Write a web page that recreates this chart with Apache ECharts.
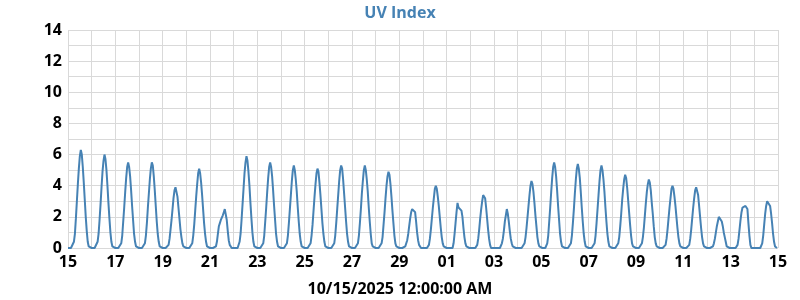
<!DOCTYPE html>
<html>
<head>
<meta charset="utf-8">
<script src="https://cdn.jsdelivr.net/npm/echarts@6/dist/echarts.min.js"></script>
<style>html,body{margin:0;padding:0;background:#fff;}#chart{width:800px;height:300px;}</style>
</head>
<body>
<div id="chart"></div>
<script>
const chartTitle = 'UV Index';
const xAxisTitle = '10/15/2025 12:00:00 AM';
const tickLabels = ['15','17','19','21','23','25','27','29','01','03','05','07','09','11','13','15'];
const yTicks = [0, 2, 4, 6, 8, 10, 12, 14];
const hoursPerDay = 24;
// hourly UV index, one row per day (hours 0..23)
const uvHourly = [
0,0,0,0,0,0.1,0.4,0.9,1.9,3.0,4.1,5.1,5.9,6.3,6.0,5.2,4.2,3.1,2.0,1.1,0.4,0.1,0,0,
0,0,0,0,0,0.1,0.4,0.9,1.8,2.8,3.9,4.9,5.6,6.0,5.7,5.0,4.0,2.9,1.9,1.0,0.4,0.1,0,0,
0,0,0,0,0,0.1,0.3,0.8,1.7,2.6,3.6,4.5,5.2,5.5,5.2,4.6,3.7,2.7,1.8,0.9,0.4,0.1,0,0,
0,0,0,0,0,0.1,0.3,0.8,1.6,2.6,3.5,4.4,5.1,5.5,5.3,4.6,3.7,2.7,1.7,0.9,0.4,0.1,0,0,
0,0,0,0,0,0.1,0.2,0.6,1.2,1.8,2.5,3.2,3.7,3.9,3.8,3.3,2.6,1.9,1.2,0.7,0.3,0.1,0,0,
0,0,0,0,0,0.1,0.3,0.8,1.5,2.4,3.3,4.1,4.8,5.1,4.8,4.2,3.4,2.5,1.6,0.9,0.4,0.1,0,0,
0,0,0,0,0,0,0.1,0.4,0.9,1.4,1.6,1.8,1.9,2.1,2.3,2.5,2.4,1.8,1.1,0.5,0.2,0.1,0,0,
0,0,0,0,0,0.1,0.4,0.9,1.8,2.8,3.8,4.8,5.5,5.9,5.6,4.9,4.0,2.9,1.9,1.0,0.4,0.1,0,0,
0,0,0,0,0,0.1,0.3,0.8,1.7,2.6,3.6,4.5,5.2,5.5,5.2,4.6,3.7,2.7,1.8,0.9,0.4,0.1,0,0,
0,0,0,0,0,0.1,0.3,0.8,1.6,2.5,3.4,4.3,5.0,5.3,5.0,4.4,3.6,2.6,1.7,0.9,0.4,0.1,0,0,
0,0,0,0,0,0.1,0.3,0.8,1.5,2.4,3.3,4.1,4.8,5.1,4.9,4.2,3.4,2.5,1.6,0.9,0.4,0.1,0,0,
0,0,0,0,0,0.1,0.3,0.8,1.6,2.5,3.4,4.3,5.0,5.3,5.1,4.4,3.5,2.6,1.7,0.9,0.4,0.1,0,0,
0,0,0,0,0,0.1,0.3,0.8,1.6,2.5,3.5,4.3,5.0,5.3,5.0,4.4,3.6,2.6,1.7,0.9,0.3,0.1,0,0,
0,0,0,0,0,0.1,0.3,0.7,1.5,2.3,3.2,4.0,4.6,4.9,4.7,4.1,3.3,2.4,1.6,0.8,0.3,0.1,0,0,
0,0,0,0,0,0,0.1,0.2,0.5,0.9,1.4,1.9,2.3,2.5,2.6,2.4,2.3,1.7,1.0,0.5,0.2,0.1,0,0,
0,0,0,0,0,0.1,0.2,0.6,1.2,1.9,2.6,3.2,3.8,4.0,3.8,3.3,2.7,2.0,1.3,0.7,0.3,0.1,0,0,
0,0,0,0,0,0,0,0.3,0.9,1.6,2.3,2.9,2.6,2.5,2.5,2.4,2.0,1.3,0.7,0.3,0.1,0,0,0,
0,0,0,0,0,0,0,0.2,0.6,1.2,1.9,2.5,3.0,3.4,3.5,3.2,2.6,1.9,1.2,0.6,0.2,0,0,0,
0,0,0,0,0,0,0,0.1,0.3,0.6,1.1,1.7,2.1,2.5,2.2,1.7,1.1,0.6,0.3,0.1,0,0,0,0,
0,0,0,0,0,0,0.1,0.3,0.7,1.3,2.0,2.7,3.4,4.0,4.3,4.1,3.6,2.9,2.1,1.4,0.7,0.3,0.1,0,
0,0,0,0,0,0.1,0.3,0.8,1.7,2.6,3.6,4.5,5.2,5.5,5.2,4.6,3.7,2.7,1.8,0.9,0.4,0.1,0,0,
0,0,0,0,0,0.1,0.3,0.8,1.6,2.5,3.5,4.4,5.1,5.4,5.1,4.5,3.6,2.6,1.7,0.9,0.4,0.1,0,0,
0,0,0,0,0,0.1,0.3,0.8,1.6,2.5,3.4,4.3,5.0,5.3,5.0,4.4,3.6,2.6,1.7,0.9,0.4,0.1,0,0,
0,0,0,0,0,0.1,0.3,0.7,1.4,2.2,3.1,3.8,4.4,4.7,4.5,3.9,3.1,2.3,1.5,0.8,0.3,0.1,0,0,
0,0,0,0,0,0.1,0.3,0.7,1.3,2.1,2.9,3.6,4.1,4.4,4.2,3.7,2.9,2.2,1.4,0.7,0.3,0.1,0,0,
0,0,0,0,0,0.1,0.2,0.6,1.2,1.9,2.6,3.2,3.8,4.0,3.8,3.3,2.7,2.0,1.3,0.7,0.3,0.1,0,0,
0,0,0,0,0,0.1,0.2,0.6,1.2,1.9,2.6,3.2,3.7,3.9,4.0,3.4,2.7,2.0,1.3,0.7,0.3,0.1,0,0,
0,0,0,0,0,0,0.1,0.3,0.6,1.0,1.4,1.7,2.0,2.1,2.0,1.7,1.4,1.0,0.7,0.4,0.1,0,0,0,
0,0,0,0,0,0,0,0.2,0.6,1.2,1.8,2.3,2.6,2.6,2.6,2.7,2.8,2.5,1.6,0.8,0.2,0,0,0,
0,0,0,0,0,0,0,0.1,0.3,0.8,1.5,2.2,2.7,3.0,3.1,3.0,2.7,2.2,1.6,0.9,0.4,0.1,0,0
];

const chart = echarts.init(document.getElementById('chart'));
const fontFam = '"Open Sans", "Noto Sans", sans-serif';
const gridColor = '#d9d9d9';
const nDays = uvHourly.length / hoursPerDay;
chart.setOption({
  animation: false,
  title: [{
    text: chartTitle, left: 'center', top: 0,
    textStyle: { color: '#4682b4', fontSize: 16, fontWeight: 'bold', fontFamily: fontFam }
  }, {
    text: xAxisTitle, left: 'center', top: 276,
    textStyle: { color: '#000', fontSize: 16, fontWeight: 'bold', fontFamily: fontFam }
  }],
  grid: { left: 68, right: 22, top: 30, bottom: 52, containLabel: false },
  xAxis: {
    type: 'value', min: 0, max: nDays, interval: 2,
    axisLine: { show: false }, axisTick: { show: false },
    axisLabel: {
      color: '#000', fontSize: 16, fontWeight: 'bold', fontFamily: fontFam, margin: 6,
      formatter: v => tickLabels[Math.round(v / 2)] || ''
    },
    splitLine: { show: true, lineStyle: { color: gridColor, width: 1 } },
    minorTick: { show: false, splitNumber: 2 },
    minorSplitLine: { show: true, lineStyle: { color: gridColor, width: 1 } }
  },
  yAxis: {
    type: 'value', min: yTicks[0], max: yTicks[yTicks.length - 1], interval: 2,
    axisLine: { show: false }, axisTick: { show: false },
    axisLabel: { color: '#000', fontSize: 16, fontWeight: 'bold', fontFamily: fontFam, margin: 6 },
    splitLine: { show: true, lineStyle: { color: gridColor, width: 1 } },
    minorTick: { show: false, splitNumber: 2 },
    minorSplitLine: { show: true, lineStyle: { color: gridColor, width: 1 } }
  },
  series: [{
    type: 'line',
    data: uvHourly.map((v, i) => [i / hoursPerDay, v]),
    showSymbol: false,
    lineStyle: { color: '#4682b4', width: 2 },
    itemStyle: { color: '#4682b4' }
  }]
});
</script>
</body>
</html>
